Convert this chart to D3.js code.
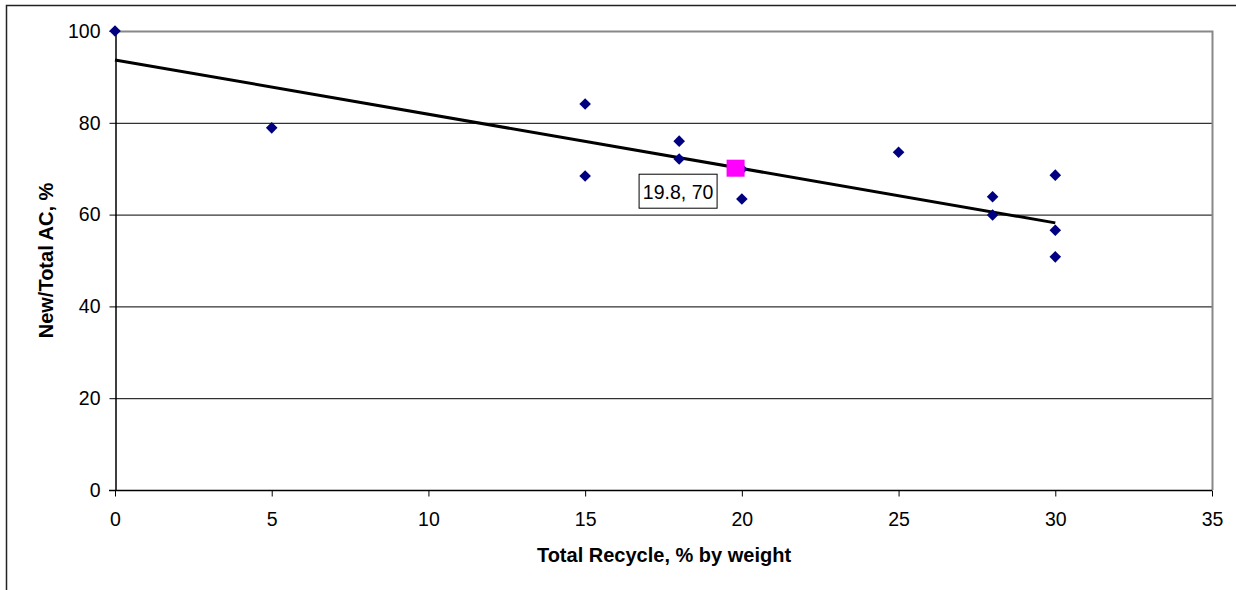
<!DOCTYPE html>
<html><head><meta charset="utf-8">
<script src="https://cdn.jsdelivr.net/npm/d3@7"></script>
<style>body{margin:0;background:#fff}svg{display:block;font-family:Arial,"Liberation Sans",sans-serif}</style>
</head><body><svg id="c" width="1236" height="590"></svg>
<script>
const recycleX = [0,5,15,15,18,18,20,20,25,28,28,30,30,30];
const newTotalY = [100,78.9,84.1,68.4,76.0,72.1,69.9,63.4,73.6,63.9,59.9,68.6,56.6,50.8];
const trendX = [0,30];
const trendY = [93.7,58.2];
const highlightPoint = [19.8,70];
const highlightLabel = "19.8, 70";
const xTicks = [0,5,10,15,20,25,30,35];
const yTicks = [0,20,40,60,80,100];
const xTitle = "Total Recycle, % by weight";
const yTitle = "New/Total AC, %";

const FONT = "Arial,'Liberation Sans',sans-serif";
const svg = d3.select("#c");
const L=115,R=1212,T=31,B=490;
const x = d3.scaleLinear().domain([0,35]).range([L,R]);
const y = d3.scaleLinear().domain([0,100]).range([B,T]);

// outer frame
svg.append("path").attr("d","M6.5,600 V5.5 H1240").attr("fill","none").attr("stroke","#222").attr("stroke-width",1.5);

// gridlines
svg.append("g").selectAll("line").data(yTicks.filter(d=>d>0&&d<100)).join("line")
 .attr("x1",L).attr("x2",R).attr("y1",d=>y(d)+0.5).attr("y2",d=>y(d)+0.5).attr("stroke","#000").attr("stroke-width",1);
// plot border top/right gray
svg.append("path").attr("d",`M${L},${T+0.5} H${R+0.5} V${B}`).attr("fill","none").attr("stroke","#888").attr("stroke-width",2);

// axes
const xa = svg.append("g").attr("transform",`translate(0,${B+0.5})`)
 .call(d3.axisBottom(x).tickValues(xTicks).tickSize(6).tickPadding(16).tickSizeOuter(0));
xa.select(".domain").attr("d",`M${L-6},0 H${R}`).attr("stroke","#000").attr("stroke-width",1.5);
const ya = svg.append("g").attr("transform",`translate(${L+0.5},0)`)
 .call(d3.axisLeft(y).tickValues(yTicks).tickSize(6).tickPadding(9).tickSizeOuter(0));
ya.select(".domain").attr("stroke","#000").attr("stroke-width",1.5);
svg.selectAll(".tick text").attr("font-size",19.5).attr("fill","#000").attr("font-family",FONT);
svg.selectAll(".tick line").attr("stroke","#000");

// trendline
svg.append("line").attr("x1",x(trendX[0])).attr("y1",y(trendY[0])).attr("x2",x(trendX[1])).attr("y2",y(trendY[1]))
 .attr("stroke","#000").attr("stroke-width",3);

// points
const pts = recycleX.map((v,i)=>[v,newTotalY[i]]);
svg.append("g").selectAll("path").data(pts).join("path")
 .attr("transform",d=>`translate(${x(d[0])},${y(d[1])})`)
 .attr("d","M0,-5.8 L5.8,0 L0,5.8 L-5.8,0 Z").attr("fill","#000080");

// highlight
svg.append("rect").attr("x",x(highlightPoint[0])-9).attr("y",y(highlightPoint[1])-9).attr("width",18).attr("height",17).attr("fill","#ff00ff");

// label box
const bx = x(highlightPoint[0])-97, by = y(highlightPoint[1])+5;
svg.append("rect").attr("x",bx+0.5).attr("y",by+0.5).attr("width",78).attr("height",34).attr("fill","#fff").attr("stroke","#000").attr("stroke-width",1);
svg.append("text").attr("x",bx+39.5).attr("y",by+25).attr("text-anchor","middle").attr("font-size",19.5).attr("font-family",FONT).text(highlightLabel);

// titles
svg.append("text").attr("x",664).attr("y",562).attr("text-anchor","middle").attr("font-size",20).attr("font-weight","bold").attr("font-family",FONT).text(xTitle);
svg.append("text").attr("transform",`translate(53,${(T+B)/2}) rotate(-90)`).attr("text-anchor","middle").attr("font-size",20).attr("font-weight","bold").attr("font-family",FONT).text(yTitle);
</script></body></html>
